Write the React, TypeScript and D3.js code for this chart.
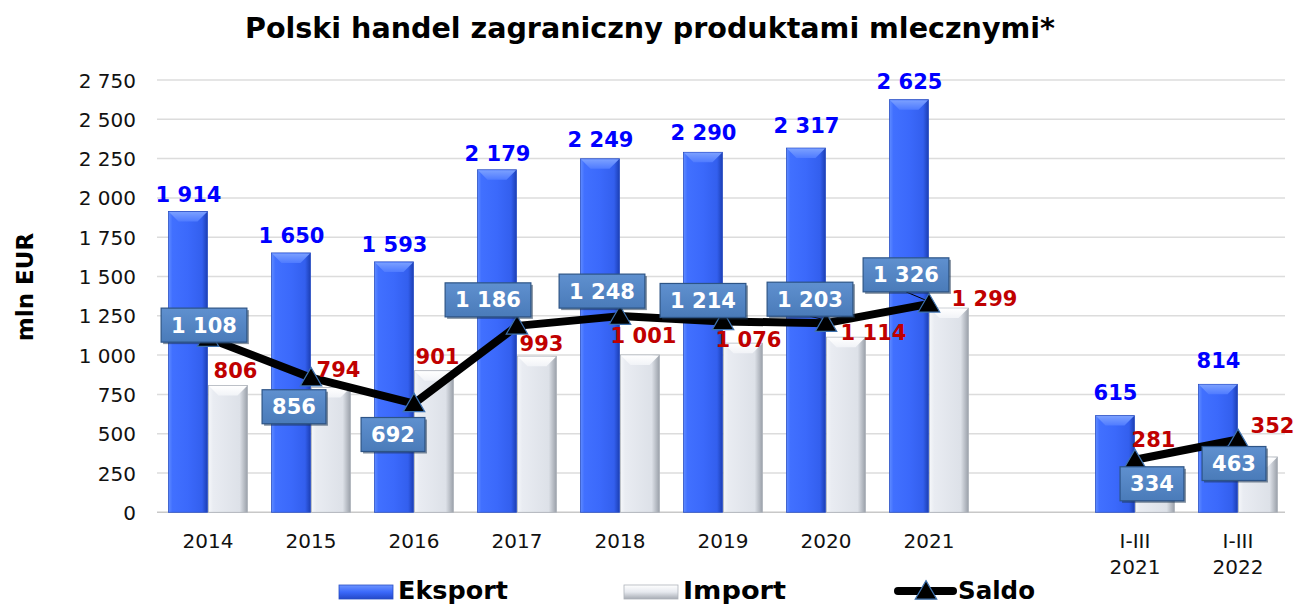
import React from "react";
import * as d3 from "d3";

const categories = ["2014", "2015", "2016", "2017", "2018", "2019", "2020", "2021", "I-III 2021", "I-III 2022"];
const slots = ["2014", "2015", "2016", "2017", "2018", "2019", "2020", "2021", "_gap", "I-III 2021", "I-III 2022"];
const exportValues = [1914, 1650, 1593, 2179, 2249, 2290, 2317, 2625, 615, 814];
const importValues = [806, 794, 901, 993, 1001, 1076, 1114, 1299, 281, 352];
const saldoValues = [1108, 856, 692, 1186, 1248, 1214, 1203, 1326, 334, 463];
const yTicks = [0, 250, 500, 750, 1000, 1250, 1500, 1750, 2000, 2250, 2500, 2750];
const seriesNames = ["Eksport", "Import", "Saldo"];

// label nudges (layout, px)
const expLabelDy = [-9, -10, -10, -9, -12, -12, -15, -11, -16, -16];
const impLabelOff: [number, number][] = [
  [8, -8], [8, -10], [4, -7], [5, -5], [4, -12], [6, 4], [28, 3], [36, -2], [-1, -21], [15, -24],
];
const saldoBoxOff: [number, number][] = [
  [-4, -13], [-17, 29], [-21, 31], [-29, -26], [-18, -25], [-20, -21], [-16, -24], [-23, -29], [17, 24], [-4, 24],
];
const leaderIdx = [6, 7];

const W = 1298;
const H = 605;
const fmt = d3.formatLocale({ thousands: " ", grouping: [3], decimal: ",", currency: ["", ""] }).format(",d");

const x = d3.scaleBand<string>().domain(slots).range([156.5, 1289.5]).padding(0);
const y = d3.scaleLinear().domain([0, 2750]).range([512.3, 80]);

const SANS = "'DejaVu Sans', Verdana, sans-serif";
const COND = "'DejaVu Sans Condensed', 'DejaVu Sans', sans-serif";

function textW(s: string, size: number) {
  let w = 0;
  for (const ch of s) w += ch === " " ? 0.348 : 0.696;
  return w * size;
}

function Bar({ x0, w, v, kind }: { x0: number; w: number; v: number; kind: "exp" | "imp" }) {
  const top = y(v);
  const h = y(0) - top;
  const bev = Math.min(10, h / 2);
  const grad = kind === "exp" ? "url(#gExp)" : "url(#gImp)";
  const topGrad = kind === "exp" ? "url(#gExpTop)" : "url(#gImpTop)";
  const stroke = kind === "exp" ? "#2a4fc4" : "#aeb3bb";
  return (
    <g>
      <rect x={x0} y={top} width={w} height={h} fill={grad} stroke={stroke} strokeWidth={0.8} />
      <polygon
        points={`${x0 + 0.5},${top + 0.5} ${x0 + w - 0.5},${top + 0.5} ${x0 + w - bev},${top + bev} ${x0 + bev},${top + bev}`}
        fill={topGrad}
      />
    </g>
  );
}

export default function App() {
  const bw = 39;
  const cx = (i: number) => (x(categories[i]) as number) + x.bandwidth() / 2;
  const linePts: [number, number][] = saldoValues.map((v, i) => [cx(i), y(v)]);
  const line = d3.line();
  const tri = d3.symbol().type(d3.symbolTriangle).size(200)();
  const gridX0 = 157;
  const gridX1 = 1285;
  const legY = 599;

  return (
    <svg width={W} height={H} style={{ position: "absolute", left: 0, top: 0, background: "#fff" }}>
      <defs>
        <linearGradient id="gExp" x1="0" x2="1" y1="0" y2="0">
          <stop offset="0" stopColor="#5f8bff" />
          <stop offset="0.1" stopColor="#4170ff" />
          <stop offset="0.5" stopColor="#3b69fb" />
          <stop offset="0.86" stopColor="#335fee" />
          <stop offset="1" stopColor="#1c3fb4" />
        </linearGradient>
        <linearGradient id="gExpTop" x1="0" x2="0" y1="0" y2="1">
          <stop offset="0" stopColor="#7ba0ff" />
          <stop offset="1" stopColor="#4f7bff" />
        </linearGradient>
        <linearGradient id="gImp" x1="0" x2="1" y1="0" y2="0">
          <stop offset="0" stopColor="#f5f7fa" />
          <stop offset="0.12" stopColor="#e9ecf2" />
          <stop offset="0.8" stopColor="#dde1e8" />
          <stop offset="1" stopColor="#9aa0a9" />
        </linearGradient>
        <linearGradient id="gImpTop" x1="0" x2="0" y1="0" y2="1">
          <stop offset="0" stopColor="#ffffff" />
          <stop offset="1" stopColor="#f1f3f7" />
        </linearGradient>
        <linearGradient id="gBox" x1="0" x2="0" y1="0" y2="1">
          <stop offset="0" stopColor="#5f90cf" />
          <stop offset="1" stopColor="#4a7bb9" />
        </linearGradient>
        <linearGradient id="gLegExp" x1="0" x2="0" y1="0" y2="1">
          <stop offset="0" stopColor="#6d95ff" />
          <stop offset="0.5" stopColor="#3b69fb" />
          <stop offset="1" stopColor="#2448c8" />
        </linearGradient>
        <linearGradient id="gLegImp" x1="0" x2="0" y1="0" y2="1">
          <stop offset="0" stopColor="#ffffff" />
          <stop offset="0.5" stopColor="#e6e9ef" />
          <stop offset="1" stopColor="#a6abb3" />
        </linearGradient>
      </defs>

      {/* title */}
      <text x={650} y={38} textAnchor="middle" fontFamily={COND} fontStretch="condensed" fontWeight="bold" fontSize={28} textLength={810} lengthAdjust="spacingAndGlyphs">
        Polski handel zagraniczny produktami mlecznymi*
      </text>

      {/* gridlines */}
      {yTicks.map((t) => (
        <line key={t} x1={gridX0} x2={gridX1} y1={y(t)} y2={y(t)} stroke={t === 0 ? "#c8c8c8" : "#dcdcdc"} strokeWidth={1.5} />
      ))}

      {/* y tick labels */}
      {yTicks.map((t) => (
        <text key={"l" + t} x={136} y={y(t) + 7.5} textAnchor="end" fontFamily={SANS} fontSize={20} fill="#111">
          {fmt(t)}
        </text>
      ))}

      {/* y title */}
      <text transform={`translate(33,287) rotate(-90)`} textAnchor="middle" fontFamily={SANS} fontWeight="bold" fontSize={23}>
        mln EUR
      </text>

      {/* x labels */}
      {categories.map((c, i) => {
        const parts = c.split(" ");
        return (
          <text key={"x" + c} x={cx(i)} y={548} textAnchor="middle" fontFamily={SANS} fontSize={20} fill="#111">
            {parts.map((p, k) => (
              <tspan key={k} x={cx(i)} dy={k === 0 ? 0 : 26}>
                {p}
              </tspan>
            ))}
          </text>
        );
      })}

      {/* bars */}
      {categories.map((c, i) => (
        <g key={"b" + c}>
          <Bar x0={cx(i) - bw - 0.5} w={bw} v={exportValues[i]} kind="exp" />
          <Bar x0={cx(i) + 0.5} w={bw} v={importValues[i]} kind="imp" />
        </g>
      ))}

      {/* export labels */}
      {categories.map((c, i) => (
        <text key={"el" + c} x={cx(i) - bw / 2} y={y(exportValues[i]) + expLabelDy[i]} textAnchor="middle" fontFamily={SANS} fontWeight="bold" fontSize={21} fill="#0000ff">
          {fmt(exportValues[i])}
        </text>
      ))}

      {/* saldo line */}
      <path d={line(linePts.slice(0, 8)) || ""} fill="none" stroke="#000" strokeWidth={8} strokeLinejoin="round" />
      <path d={line(linePts.slice(8)) || ""} fill="none" stroke="#000" strokeWidth={8} strokeLinejoin="round" />

      {/* import labels */}
      {categories.map((c, i) => (
        <text key={"il" + c} x={cx(i) + bw / 2 + impLabelOff[i][0]} y={y(importValues[i]) + impLabelOff[i][1]} textAnchor="middle" fontFamily={SANS} fontWeight="bold" fontSize={21} fill="#c00000">
          {fmt(importValues[i])}
        </text>
      ))}

      {/* leader lines */}
      {leaderIdx.map((i) => (
        <line
          key={"ld" + i}
          x1={linePts[i][0] + saldoBoxOff[i][0]}
          y1={linePts[i][1] + saldoBoxOff[i][1] + 17}
          x2={linePts[i][0] - 4}
          y2={linePts[i][1] - 4}
          stroke="#000"
          strokeWidth={1}
        />
      ))}

      {/* markers */}
      {linePts.map(([px, py], i) => (
        <path key={"m" + i} d={tri || ""} transform={`translate(${px},${py + 2})`} fill="#000" stroke="#3f73b0" strokeWidth={1.2} />
      ))}

      {/* saldo boxes */}
      {saldoValues.map((v, i) => {
        const label = fmt(v);
        const bwid = textW(label, 21) + 20;
        const bh = 34;
        const bcx = linePts[i][0] + saldoBoxOff[i][0];
        const bcy = linePts[i][1] + saldoBoxOff[i][1];
        return (
          <g key={"sb" + i}>
            <rect x={bcx - bwid / 2 + 2} y={bcy - bh / 2 + 2} width={bwid} height={bh} fill="#1e3550" opacity={0.55} />
            <rect x={bcx - bwid / 2} y={bcy - bh / 2} width={bwid} height={bh} fill="url(#gBox)" stroke="#2d5486" strokeWidth={1.2} />
            <text x={bcx} y={bcy + 7.6} textAnchor="middle" fontFamily={SANS} fontWeight="bold" fontSize={21} fill="#fff">
              {label}
            </text>
          </g>
        );
      })}

      {/* legend */}
      <g>
        <rect x={339} y={legY - 14} width={54} height={14} fill="url(#gLegExp)" stroke="#2a4fc4" strokeWidth={0.8} />
        <text x={398} y={legY} fontFamily={COND} fontStretch="condensed" fontWeight="bold" fontSize={25} textLength={110} lengthAdjust="spacingAndGlyphs">
          {seriesNames[0]}
        </text>
        <rect x={624} y={legY - 14} width={54} height={14} fill="url(#gLegImp)" stroke="#aeb3bb" strokeWidth={0.8} />
        <text x={683} y={legY} fontFamily={COND} fontStretch="condensed" fontWeight="bold" fontSize={25} textLength={103} lengthAdjust="spacingAndGlyphs">
          {seriesNames[1]}
        </text>
        <line x1={898} x2={953} y1={legY - 8} y2={legY - 8} stroke="#000" strokeWidth={8} strokeLinecap="round" />
        <path d={tri || ""} transform={`translate(926,${legY - 6})`} fill="#000" stroke="#3f73b0" strokeWidth={1.2} />
        <text x={958} y={legY} fontFamily={COND} fontStretch="condensed" fontWeight="bold" fontSize={25} textLength={77} lengthAdjust="spacingAndGlyphs">
          {seriesNames[2]}
        </text>
      </g>
    </svg>
  );
}
